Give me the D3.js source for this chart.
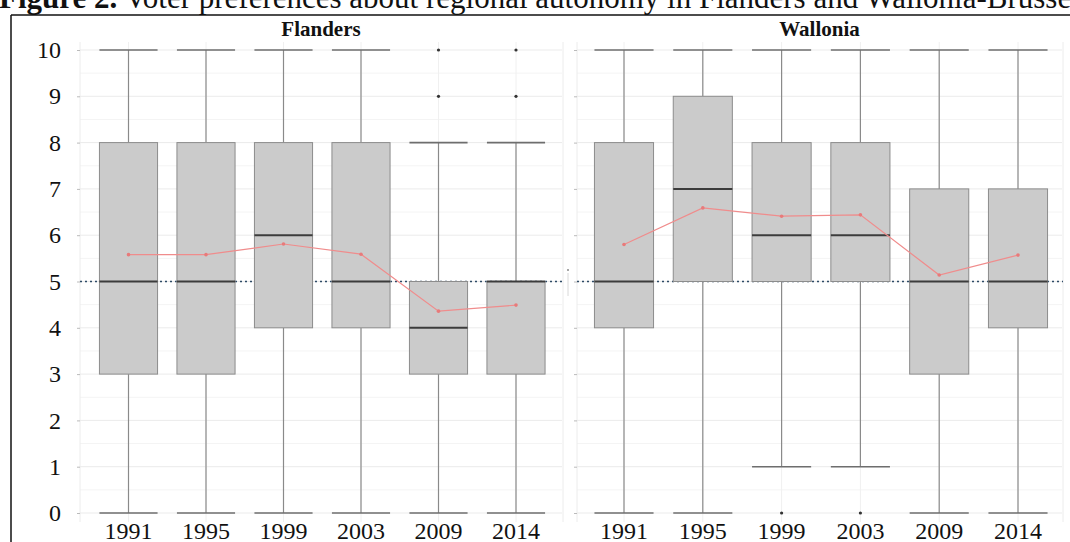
<!DOCTYPE html>
<html>
<head>
<meta charset="utf-8">
<script src="https://cdn.jsdelivr.net/npm/d3@7"></script>
<style>
  body { margin: 0; background: #fff; }
  svg { display: block; font-family: "Liberation Serif", "Times New Roman", serif; }
</style>
</head>
<body>
<div id="chart"></div>
<script>
const years = ["1991", "1995", "1999", "2003", "2009", "2014"];

// Flanders
const flMin = [0, 0, 0, 0, 0, 0];
const flQ1 = [3, 3, 4, 4, 3, 3];
const flMedian = [5, 5, 6, 5, 4, 5];
const flQ3 = [8, 8, 8, 8, 5, 5];
const flMax = [10, 10, 10, 10, 8, 8];
const flMean = [5.58, 5.58, 5.81, 5.59, 4.36, 4.49];
const flOutliers = [[], [], [], [], [9, 10], [9, 10]];

// Wallonia
const waMin = [0, 0, 1, 1, 0, 0];
const waQ1 = [4, 5, 5, 5, 3, 4];
const waMedian = [5, 7, 6, 6, 5, 5];
const waQ3 = [8, 9, 8, 8, 7, 7];
const waMax = [10, 10, 10, 10, 10, 10];
const waMean = [5.80, 6.59, 6.41, 6.44, 5.14, 5.57];
const waOutliers = [[], [], [0], [0], [], []];

const yTicks = [0, 1, 2, 3, 4, 5, 6, 7, 8, 9, 10];
const refValue = 5;

const W = 1070, H = 542;

const svg = d3.select("#chart").append("svg")
  .attr("width", W)
  .attr("height", H);

// caption, cut at top of the picture
svg.append("text")
  .attr("x", -1)
  .attr("y", 8)
  .attr("font-size", 31)
  .attr("fill", "#111")
  .call(t => {
    t.append("tspan").attr("font-weight", "bold").text("Figure 2.");
    t.append("tspan").text(" Voter preferences about regional autonomy in Flanders and Wallonia-Brussels");
  });

// frame
svg.append("line").attr("x1", 11).attr("x2", W).attr("y1", 15).attr("y2", 15)
  .attr("stroke", "#111").attr("stroke-width", 1.5);
svg.append("line").attr("x1", 11).attr("x2", 11).attr("y1", 15).attr("y2", H)
  .attr("stroke", "#111").attr("stroke-width", 1.5);

const y = d3.scaleLinear().domain([0, 10]).range([513, 50]);

const panels = [
  { name: "Flanders", left: 80, right: 562, band: [89.75, 554.75],
    min: flMin, q1: flQ1, med: flMedian, q3: flQ3, max: flMax, mean: flMean, out: flOutliers, labels: true },
  { name: "Wallonia", left: 577, right: 1062, band: [584.6, 1057.4],
    min: waMin, q1: waQ1, med: waMedian, q3: waQ3, max: waMax, mean: waMean, out: waOutliers, labels: false }
];

const plotTop = 42, plotBottom = 522;

panels.forEach(p => {
  const x = d3.scaleBand().domain(years).range(p.band).paddingInner(0.25).paddingOuter(0.125);
  const bw = x.bandwidth();
  const cx = d => x(d) + bw / 2;
  const g = svg.append("g");

  // minor grid
  g.selectAll(".minor").data(d3.range(0.5, 10, 1)).enter().append("line")
    .attr("x1", p.left).attr("x2", p.right)
    .attr("y1", d => y(d)).attr("y2", d => y(d))
    .attr("stroke", "#f4f4f4").attr("stroke-width", 1);

  // major grid
  g.selectAll(".major").data(yTicks).enter().append("line")
    .attr("x1", p.left).attr("x2", p.right)
    .attr("y1", d => y(d)).attr("y2", d => y(d))
    .attr("stroke", "#ebebeb").attr("stroke-width", 1);

  // vertical grid
  g.selectAll(".vgrid").data(years).enter().append("line")
    .attr("x1", cx).attr("x2", cx)
    .attr("y1", plotTop).attr("y2", plotBottom)
    .attr("stroke", "#f0f0f0").attr("stroke-width", 1);

  // faint panel edges
  [p.left, p.right + 1].forEach(v => {
    g.append("line").attr("x1", v).attr("x2", v).attr("y1", plotTop).attr("y2", plotBottom)
      .attr("stroke", "#ececec").attr("stroke-width", 1);
  });

  // y axis
  const yAxis = d3.axisLeft(y).tickValues(yTicks).tickSize(3).tickPadding(16);
  const ya = g.append("g").attr("transform", `translate(${p.left},0)`).call(yAxis);
  ya.select(".domain").remove();
  ya.selectAll(".tick line").attr("stroke", "#bbb");
  ya.selectAll("text")
    .attr("font-family", "Liberation Serif, serif")
    .attr("font-size", 24)
    .attr("fill", "#111")
    .style("display", p.labels ? null : "none");

  // reference line at 5
  g.append("line")
    .attr("x1", p.left).attr("x2", p.right + 1)
    .attr("y1", y(refValue)).attr("y2", y(refValue))
    .attr("stroke", "#2d4a66").attr("stroke-width", 1.3)
    .attr("stroke-dasharray", "2,3");

  const rows = years.map((yr, i) => ({
    yr, min: p.min[i], q1: p.q1[i], med: p.med[i], q3: p.q3[i], max: p.max[i], mean: p.mean[i], out: p.out[i]
  }));

  // whiskers
  g.selectAll(".wlo").data(rows).enter().append("line")
    .attr("x1", d => cx(d.yr)).attr("x2", d => cx(d.yr))
    .attr("y1", d => y(d.min)).attr("y2", d => y(d.q1))
    .attr("stroke", "#8a8a8a").attr("stroke-width", 1.2);
  g.selectAll(".whi").data(rows).enter().append("line")
    .attr("x1", d => cx(d.yr)).attr("x2", d => cx(d.yr))
    .attr("y1", d => y(d.q3)).attr("y2", d => y(d.max))
    .attr("stroke", "#8a8a8a").attr("stroke-width", 1.2);

  // caps
  ["min", "max"].forEach(k => {
    g.selectAll(".cap-" + k).data(rows).enter().append("line")
      .attr("x1", d => x(d.yr)).attr("x2", d => x(d.yr) + bw)
      .attr("y1", d => y(d[k])).attr("y2", d => y(d[k]))
      .attr("stroke", "#6e6e6e").attr("stroke-width", 1.6);
  });

  // boxes
  g.selectAll(".box").data(rows).enter().append("rect")
    .attr("x", d => x(d.yr)).attr("width", bw)
    .attr("y", d => y(d.q3)).attr("height", d => y(d.q1) - y(d.q3))
    .attr("fill", "#cbcbcb").attr("stroke", "#8c8c8c").attr("stroke-width", 1);

  // medians
  g.selectAll(".med").data(rows).enter().append("line")
    .attr("x1", d => x(d.yr)).attr("x2", d => x(d.yr) + bw)
    .attr("y1", d => y(d.med)).attr("y2", d => y(d.med))
    .attr("stroke", "#3c3c3c").attr("stroke-width", 2);

  // outliers
  const outs = rows.flatMap(d => d.out.map(v => ({ yr: d.yr, v })));
  g.selectAll(".out").data(outs).enter().append("circle")
    .attr("cx", d => cx(d.yr)).attr("cy", d => y(d.v)).attr("r", 1.6)
    .attr("fill", "#333");

  // mean line
  const line = d3.line().x(d => cx(d.yr)).y(d => y(d.mean));
  g.append("path").datum(rows)
    .attr("d", line).attr("fill", "none")
    .attr("stroke", "#f08c8c").attr("stroke-width", 1.2);
  g.selectAll(".meanpt").data(rows).enter().append("circle")
    .attr("cx", d => cx(d.yr)).attr("cy", d => y(d.mean)).attr("r", 1.8)
    .attr("fill", "#e87a7a");

  // x axis labels
  const xAxis = d3.axisBottom(x).tickSize(0).tickPadding(0);
  const xa = g.append("g").attr("transform", "translate(0,520)").call(xAxis);
  xa.select(".domain").remove();
  xa.selectAll("text")
    .attr("y", 19).attr("dy", null)
    .attr("font-family", "Liberation Serif, serif")
    .attr("font-size", 24)
    .attr("fill", "#111");

  // panel title
  g.append("text")
    .attr("x", (p.left + p.right) / 2)
    .attr("y", 36)
    .attr("text-anchor", "middle")
    .attr("font-weight", "bold")
    .attr("font-size", 21)
    .attr("fill", "#111")
    .text(p.name);
});

// small mark between the panels
svg.append("line").attr("x1", 568).attr("x2", 568).attr("y1", 273).attr("y2", 296)
  .attr("stroke", "#d8d8d8").attr("stroke-width", 1);
svg.append("circle").attr("cx", 568).attr("cy", 270).attr("r", 1).attr("fill", "#888");
</script>
</body>
</html>
